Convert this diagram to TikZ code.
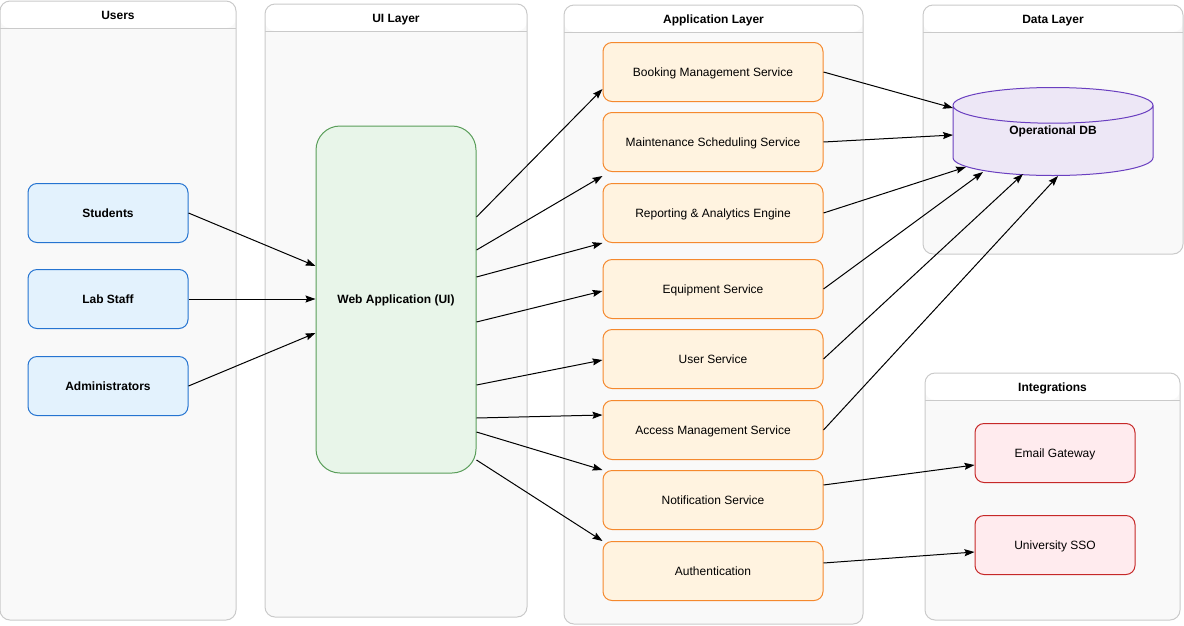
\documentclass[tikz,border=0pt]{standalone}
\usepackage{fontspec}
\setmainfont{Liberation Sans}
\usetikzlibrary{shapes.geometric,arrows.meta,positioning,calc}

\definecolor{layerfill}{HTML}{F9F9F9}
\definecolor{layerline}{HTML}{CACACA}
\definecolor{userfill}{HTML}{E3F2FD}
\definecolor{userline}{HTML}{2574D1}
\definecolor{webfill}{HTML}{E8F5E9}
\definecolor{webline}{HTML}{5A9E5A}
\definecolor{svcfill}{HTML}{FFF3E0}
\definecolor{svcline}{HTML}{F5892E}
\definecolor{dbfill}{HTML}{EDE7F6}
\definecolor{dbline}{HTML}{6A3FC0}
\definecolor{intfill}{HTML}{FFEBEE}
\definecolor{intline}{HTML}{C62828}

\begin{document}
\begin{tikzpicture}[x=1pt,y=-1pt,
  every node/.style={font=\fontsize{12}{14}\selectfont, text height=10.3pt, text depth=1.7pt},
  layer/.style={draw=layerline, line width=1pt, fill=layerfill, rounded corners=10pt,
    path picture={
      \fill[white] (path picture bounding box.north west) rectangle ([yshift=-27pt]path picture bounding box.north east);
      \draw[layerline, line width=1pt] ([yshift=-27pt]path picture bounding box.north west) -- ([yshift=-27pt]path picture bounding box.north east);}},
  title/.style={anchor=base, font=\fontsize{12}{14}\selectfont\bfseries},
  box/.style={draw, line width=1pt, rounded corners=9pt, align=center},
  userbox/.style={box, draw=userline, fill=userfill, minimum width=160, minimum height=59, font=\fontsize{12}{14}\selectfont\bfseries},
  svcbox/.style={box, draw=svcline, fill=svcfill, minimum width=220, minimum height=59},
  intbox/.style={box, draw=intline, fill=intfill, minimum width=160, minimum height=59},
  flow/.style={line width=1pt, -{Stealth[length=10pt,width=7pt,inset=1.5pt]}}]
\useasboundingbox (0,0) rectangle (1184,625);

% layers
\node[layer, minimum width=236, minimum height=619] (usersL) at (118,310.5) {};
\node[layer, minimum width=262, minimum height=613] (uiL) at (396,310.5) {};
\node[layer, minimum width=299, minimum height=619] (appL) at (713.5,314.5) {};
\node[layer, minimum width=260, minimum height=249] (dataL) at (1053,129.5) {};
\node[layer, minimum width=255, minimum height=247] (intL) at (1052.5,496.5) {};
\node[title] (usersT) at ([yshift=-18.5pt]usersL.north) {Users};
\node[title] (uiT) at ([yshift=-18.5pt]uiL.north) {UI Layer};
\node[title] (appT) at ([yshift=-18.5pt]appL.north) {Application Layer};
\node[title] (dataT) at ([yshift=-18.5pt]dataL.north) {Data Layer};
\node[title] (intT) at ([yshift=-18.5pt]intL.north) {Integrations};

% users
\node[userbox] (students) at (108,213) {Students};
\node[userbox] (labstaff) at (108,299) {Lab Staff};
\node[userbox] (admins) at (108,386) {Administrators};

% ui
\node[box, draw=webline, fill=webfill, rounded corners=24pt, minimum width=160, minimum height=347,
  font=\fontsize{12}{14}\selectfont\bfseries] (web) at (396,299.5) {Web Application (UI)};

% services
\node[svcbox] (book) at (713,72) {Booking Management Service};
\node[svcbox] (maint) at (713,142) {Maintenance Scheduling Service};
\node[svcbox] (report) at (713,213) {Reporting \& Analytics Engine};
\node[svcbox] (equip) at (713,289) {Equipment Service};
\node[svcbox] (usersvc) at (713,359) {User Service};
\node[svcbox] (access) at (713,430) {Access Management Service};
\node[svcbox] (notify) at (713,500) {Notification Service};
\node[svcbox] (auth) at (713,571) {Authentication};

% data
\node[cylinder, shape border rotate=90, aspect=0.38, draw=dbline, fill=dbfill, line width=1pt,
  text width=87.3pt, minimum width=200, minimum height=88, anchor=north] (db) at (1053,87) {};
\node[font=\fontsize{12}{14}\selectfont\bfseries] (dbT) at (1053,130) {Operational DB};

% integrations
\node[intbox] (email) at (1055,453) {Email Gateway};
\node[intbox] (sso) at (1055,545) {University SSO};

% connectors
\foreach \s/\y in {students/266, labstaff/299, admins/333}
  \draw[flow] (\s.east) -- (web.west |- 0,\y);
\foreach \ya/\s/\yb in {217/book/89, 250/maint/176, 277/report/243, 322/equip/291,
    385/usersvc/360, 418/access/415, 432/notify/470, 460/auth/541}
  \draw[flow] (web.east |- 0,\ya) -- (\s.west |- 0,\yb);
\foreach \s/\dx/\dy in {book/-100/21, maint/-100/48, report/-87/80, equip/-70/85,
    usersvc/-30/87, access/5/89}
  \draw[flow] (\s.east) -- ([shift={(\dx,\dy)}]db.north);
\draw[flow] (notify.east |- 0,485) -- (email.west |- 0,465);
\draw[flow] (auth.east |- 0,563) -- (sso.west |- 0,552);
\end{tikzpicture}
\end{document}
